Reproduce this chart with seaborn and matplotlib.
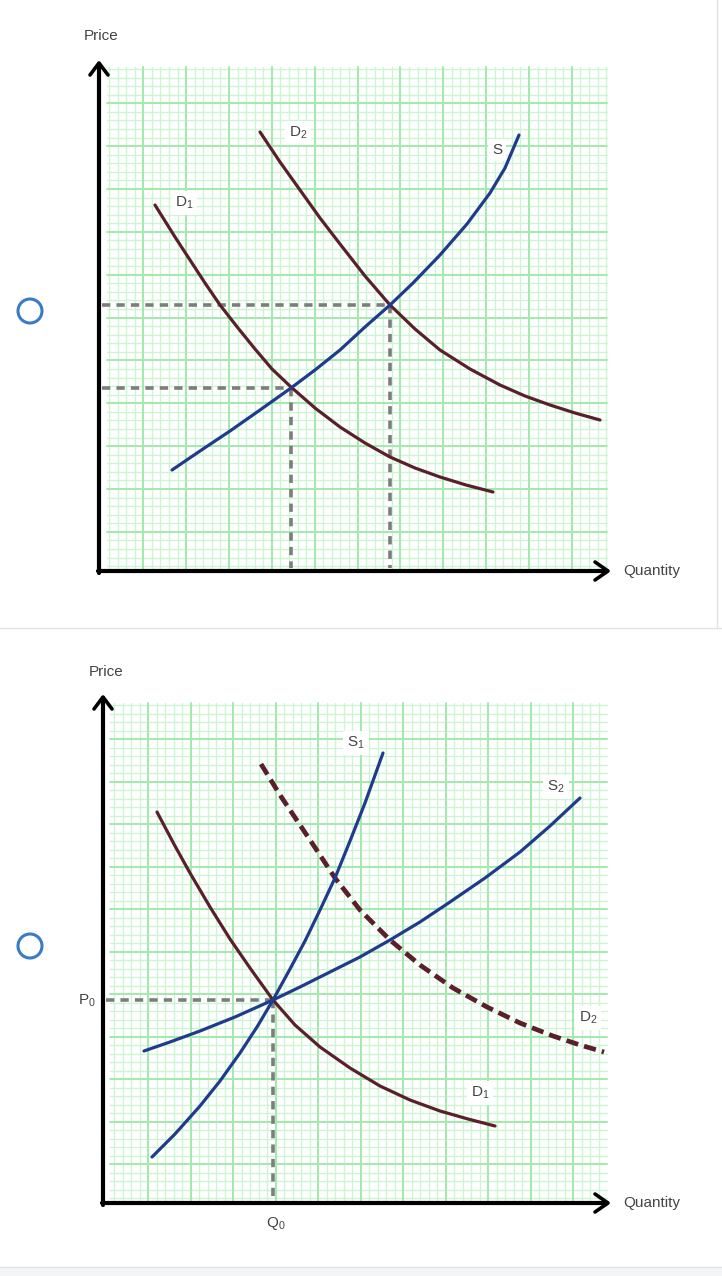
import numpy as np
import matplotlib
matplotlib.use("Agg")
import matplotlib.pyplot as plt
import seaborn as sns

sns.set_theme(style="white")
plt.rcParams['font.family'] = ['Liberation Sans', 'DejaVu Sans']
plt.rcParams['mathtext.fontset'] = 'custom'
plt.rcParams['mathtext.rm'] = 'Liberation Sans'
plt.rcParams['mathtext.it'] = 'Liberation Sans'
plt.rcParams['mathtext.default'] = 'regular'

# ---------------- data (picture coordinates, px) ----------------
# top panel
top_D1_x = [155, 175, 190, 205, 220, 238, 255, 272, 291, 315, 340, 365, 390, 415, 440, 466, 493]
top_D1_y = [205, 237, 260, 283, 305, 328, 349, 369, 387, 408, 427, 443, 457, 468, 477, 485, 492]
top_D2_x = [260, 280, 300, 320, 340, 365, 390, 415, 440, 470, 500, 525, 550, 575, 600]
top_D2_y = [132, 162, 190, 218, 244, 276, 305, 329, 350, 369, 385, 396, 405, 413, 420]
top_S_x = [172, 200, 230, 260, 291, 315, 340, 365, 390, 413, 440, 467, 490, 505, 519]
top_S_y = [470, 451, 431, 410, 388, 370, 350, 327, 305, 283, 255, 224, 193, 168, 135]
top_hdash_y = [305, 388]
top_hdash_x_end = [390, 291]
top_vdash_x = [291, 390]
top_vdash_y_start = [388, 305]

# bottom panel
bot_D1_x = [157, 175, 190, 210, 230, 250, 273, 295, 320, 350, 380, 410, 440, 468, 495]
bot_D1_y = [812, 846, 873, 907, 939, 968, 1000, 1025, 1047, 1068, 1086, 1100, 1111, 1119, 1126]
bot_D2_x = [261, 280, 300, 318, 335, 360, 390, 420, 453, 487, 520, 553, 580, 604]
bot_D2_y = [764, 795, 825, 852, 878, 910, 940, 965, 988, 1007, 1023, 1036, 1045, 1052]
bot_S1_x = [152, 175, 200, 220, 240, 257, 273, 290, 305, 320, 335, 350, 365, 383]
bot_S1_y = [1157, 1134, 1106, 1081, 1053, 1027, 1000, 969, 941, 910, 878, 841, 803, 753]
bot_S2_x = [144, 170, 200, 235, 273, 300, 330, 360, 390, 420, 450, 485, 520, 550, 580]
bot_S2_y = [1051, 1042, 1031, 1017, 1000, 987, 972, 957, 940, 922, 902, 878, 852, 826, 798]
bot_hdash_y = [1000]
bot_hdash_x_end = [273]
bot_vdash_x = [273]
bot_vdash_y_start = [1000]

MAROON = "#5b1f2b"
BLUE = "#1f3b8c"
GRAY = "#7d7d7d"
TXT = "#444444"

fig = plt.figure(figsize=(7.22, 12.76), dpi=100)
fig.patch.set_facecolor("white")
ax = fig.add_axes([0, 0, 1, 1])
ax.set_xlim(0, 722)
ax.set_ylim(1276, 0)
ax.axis("off")

MINOR_C = "#cdf5d3"
MAJOR_C = "#a2eaad"


def draw_grid(x0, x1, y0, y1, xmaj0, ymaj0, step):
    minor = step / 5.0
    xs = np.arange(xmaj0 - 5 * step, x1 + 0.1, minor)
    xs = xs[(xs >= x0) & (xs <= x1)]
    ys = np.arange(ymaj0 - 5 * step, y1 + 0.1, minor)
    ys = ys[(ys >= y0) & (ys <= y1)]
    for x in xs:
        k = round((x - xmaj0) / minor)
        major = k % 5 == 0
        ax.plot([x, x], [y0, y1], color=MAJOR_C if major else MINOR_C,
                lw=1.4 if major else 1.0, zorder=1 if major else 0.5)
    for y in ys:
        k = round((y - ymaj0) / minor)
        major = k % 5 == 0
        ax.plot([x0, x1], [y, y], color=MAJOR_C if major else MINOR_C,
                lw=1.4 if major else 1.0, zorder=1 if major else 0.5)


def axes_arrows(xa, ya, ytop, xright):
    ax.plot([xa, xa], [ya + 2, ytop], color="black", lw=3.0, zorder=5, solid_capstyle="round")
    ax.plot([xa - 1, xright], [ya, ya], color="black", lw=3.0, zorder=5, solid_capstyle="round")
    ax.plot([xa - 9, xa, xa + 9], [ytop + 11, ytop - 1, ytop + 11], color="black", lw=2.6, zorder=5,
            solid_capstyle="round", solid_joinstyle="round")
    ax.plot([xright - 12, xright + 1, xright - 12], [ya - 9, ya, ya + 9], color="black", lw=2.6,
            zorder=5, solid_capstyle="round", solid_joinstyle="round")


def curve(xs, ys, color, lw=2.3, ls="-"):
    sns.lineplot(x=xs, y=ys, sort=False, estimator=None, ax=ax, color=color, lw=lw,
                 linestyle=ls, zorder=4)


def dashes(hy, hx_end, vx, vy_start, xa, ya):
    ds = (0, (2.3, 1.7))
    for y, xe in zip(hy, hx_end):
        ax.plot([xa + 3, xe], [y, y], color=GRAY, lw=2.6, linestyle=ds, zorder=3)
    for x, ys in zip(vx, vy_start):
        ax.plot([x, x], [ys, ya - 3], color=GRAY, lw=2.6, linestyle=ds, zorder=3)


def label(x, y, s, fs=11):
    ax.text(x, y, s, ha="center", va="center", fontsize=fs, color=TXT, zorder=6,
            bbox=dict(boxstyle="square,pad=0.25", fc="white", ec="none"))


# ---------- top panel ----------
draw_grid(107, 607, 67, 571, 143.3, 103.3, 42.85)
axes_arrows(99, 571, 64, 607)
dashes(top_hdash_y, top_hdash_x_end, top_vdash_x, top_vdash_y_start, 99, 571)
curve(top_D1_x, top_D1_y, MAROON)
curve(top_D2_x, top_D2_y, MAROON)
curve(top_S_x, top_S_y, BLUE)
label(184, 203, r"$\mathregular{D_1}$")
label(298, 133, r"$\mathregular{D_2}$")
label(497, 150, "S")
ax.text(101, 36, "Price", ha="center", va="center", fontsize=11, color=TXT)
ax.text(652, 571, "Quantity", ha="center", va="center", fontsize=11, color=TXT)

# ---------- bottom panel ----------
draw_grid(110, 607, 703, 1202, 148.3, 739.3, 42.5)
axes_arrows(103, 1203, 698, 607)
dashes(bot_hdash_y, bot_hdash_x_end, bot_vdash_x, bot_vdash_y_start, 103, 1203)
curve(bot_D1_x, bot_D1_y, MAROON)
curve(bot_D2_x, bot_D2_y, MAROON, lw=3.4, ls=(0, (2.6, 1.3)))
curve(bot_S1_x, bot_S1_y, BLUE)
curve(bot_S2_x, bot_S2_y, BLUE)
label(356, 743, r"$\mathregular{S_1}$")
label(556, 787, r"$\mathregular{S_2}$")
label(588, 1018, r"$\mathregular{D_2}$")
label(480, 1093, r"$\mathregular{D_1}$")
ax.text(87, 1001, r"$\mathregular{P_0}$", ha="center", va="center", fontsize=11, color=TXT)
ax.text(276, 1223, r"$\mathregular{Q_0}$", ha="center", va="center", fontsize=11, color=TXT)
ax.text(106, 672, "Price", ha="center", va="center", fontsize=11, color=TXT)
ax.text(652, 1203, "Quantity", ha="center", va="center", fontsize=11, color=TXT)

# ---------- page decorations ----------
for cy in (311, 946):
    ax.add_patch(plt.Circle((30, cy), 12, fill=False, ec="#3a7bc8", lw=2.2, zorder=6))
ax.plot([0, 722], [627.5, 627.5], color="#e2e2e2", lw=1.0)
ax.plot([717, 717], [0, 627.5], color="#e2e2e2", lw=1.0)
ax.add_patch(plt.Rectangle((0, 1267), 722, 9, color="#f4f5f7", ec="none"))
ax.plot([0, 722], [1267, 1267], color="#e2e2e2", lw=1.0)

fig.savefig("out.png", dpi=100, facecolor="white")
